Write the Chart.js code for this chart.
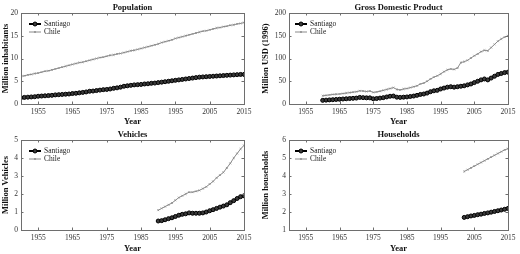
<!DOCTYPE html>
<html><head><meta charset="utf-8">
<script src="https://cdn.jsdelivr.net/npm/chart.js@4/dist/chart.umd.min.js"></script>
<style>
html,body{margin:0;padding:0;background:#fff;width:520px;height:254px;overflow:hidden}
.p{position:absolute;width:260px;height:127px}
</style></head><body>
<div class="p" style="left:0;top:0"><canvas id="c1" width="260" height="127"></canvas></div>
<div class="p" style="left:260px;top:0"><canvas id="c2" width="260" height="127"></canvas></div>
<div class="p" style="left:0;top:127px"><canvas id="c3" width="260" height="127"></canvas></div>
<div class="p" style="left:260px;top:127px"><canvas id="c4" width="260" height="127"></canvas></div>
<script>
// ---------- DATA ----------
const popYears = [1950,1951,1952,1953,1954,1955,1956,1957,1958,1959,1960,1961,1962,1963,1964,1965,1966,1967,1968,1969,1970,1971,1972,1973,1974,1975,1976,1977,1978,1979,1980,1981,1982,1983,1984,1985,1986,1987,1988,1989,1990,1991,1992,1993,1994,1995,1996,1997,1998,1999,2000,2001,2002,2003,2004,2005,2006,2007,2008,2009,2010,2011,2012,2013,2014,2015];
const popSantiago = [1.4,1.45,1.5,1.55,1.6,1.7,1.75,1.8,1.85,1.9,2.0,2.05,2.1,2.15,2.2,2.3,2.35,2.45,2.55,2.65,2.8,2.85,2.95,3.05,3.15,3.2,3.3,3.45,3.55,3.7,3.9,4.0,4.1,4.2,4.25,4.3,4.4,4.45,4.55,4.6,4.7,4.8,4.9,5.0,5.1,5.2,5.3,5.4,5.5,5.6,5.7,5.8,5.9,5.95,6.0,6.05,6.1,6.15,6.2,6.25,6.3,6.35,6.4,6.45,6.5,6.5];
const popChile = [6.1,6.2,6.4,6.5,6.7,6.8,7.0,7.2,7.3,7.5,7.7,7.9,8.1,8.3,8.5,8.7,8.9,9.1,9.2,9.4,9.6,9.8,10.0,10.2,10.3,10.5,10.7,10.8,11.0,11.1,11.3,11.5,11.7,11.8,12.0,12.2,12.4,12.6,12.8,13.0,13.2,13.5,13.7,13.9,14.1,14.4,14.6,14.8,15.0,15.2,15.4,15.6,15.8,16.0,16.1,16.3,16.5,16.7,16.8,17.0,17.1,17.3,17.4,17.6,17.7,17.9];

const gdpYears = [1960,1961,1962,1963,1964,1965,1966,1967,1968,1969,1970,1971,1972,1973,1974,1975,1976,1977,1978,1979,1980,1981,1982,1983,1984,1985,1986,1987,1988,1989,1990,1991,1992,1993,1994,1995,1996,1997,1998,1999,2000,2001,2002,2003,2004,2005,2006,2007,2008,2009,2010,2011,2012,2013,2014,2015];
const gdpSantiago = [8,8.5,9,9.5,10,10.5,11,11.5,12,12.5,13,14.5,14,13.5,13.5,11.5,12,13,14,15.5,17,17.5,15,14.5,15,15.5,16.5,17.5,19,21,22,24,27,29,30,33,35,37,38,37,38,39,40,42,44,47,50,53,55,53,57,61,65,67,69,70];
const gdpChile = [18,19,20,21,21.5,22,23,24,25,26,27,29,28.5,27.5,28.5,25.5,26.5,28,30,32,34,36,32,31,33,34,36,38,40,44,46,50,55,59,62,66,71,75,77,76,79,91,93,96,101,106,110,115,118,117,124,131,138,143,147,150];

const vehYears = [1990,1991,1992,1993,1994,1995,1996,1997,1998,1999,2000,2001,2002,2003,2004,2005,2006,2007,2008,2009,2010,2011,2012,2013,2014,2015];
const vehSantiago = [0.5,0.52,0.57,0.63,0.68,0.75,0.82,0.87,0.9,0.95,0.93,0.93,0.93,0.95,1.0,1.07,1.13,1.2,1.27,1.33,1.4,1.52,1.63,1.75,1.85,1.9];
const vehChile = [1.1,1.2,1.3,1.4,1.5,1.65,1.8,1.9,2.0,2.1,2.1,2.15,2.2,2.3,2.4,2.55,2.7,2.9,3.05,3.2,3.45,3.7,4.0,4.25,4.5,4.7];

const hhYears = [2002,2003,2004,2005,2006,2007,2008,2009,2010,2011,2012,2013,2014,2015];
const hhSantiago = [1.7,1.74,1.78,1.81,1.85,1.88,1.92,1.95,1.99,2.03,2.07,2.11,2.15,2.2];
const hhChile = [4.25,4.35,4.45,4.55,4.65,4.75,4.85,4.95,5.05,5.15,5.25,5.35,5.45,5.52];

const xTickLabels = [1955,1965,1975,1985,1995,2005,2015];
const seriesNames = ['Santiago','Chile'];
// ---------- END DATA ----------

const FONT = "'Liberation Serif', 'DejaVu Serif', serif";

const boxPlugin = {
  id: 'matlabBox',
  afterDraw(chart) {
    const ctx = chart.ctx, a = chart.chartArea;
    ctx.save();
    ctx.strokeStyle = '#6e6e6e';
    ctx.lineWidth = 1;
    ctx.strokeRect(Math.round(a.left) + 0.5, Math.round(a.top) + 0.5, Math.round(a.right - a.left), Math.round(a.bottom - a.top));
    const xs = chart.scales.x, ys = chart.scales.y;
    ctx.beginPath();
    xs.ticks.forEach(t => {
      const px = Math.round(xs.getPixelForValue(t.value)) + 0.5;
      ctx.moveTo(px, a.bottom); ctx.lineTo(px, a.bottom - 2.5);
      ctx.moveTo(px, a.top); ctx.lineTo(px, a.top + 2.5);
    });
    ys.ticks.forEach(t => {
      const py = Math.round(ys.getPixelForValue(t.value)) + 0.5;
      ctx.moveTo(a.left, py); ctx.lineTo(a.left + 2.5, py);
      ctx.moveTo(a.right, py); ctx.lineTo(a.right - 2.5, py);
    });
    ctx.stroke();
    const o = chart.options.plugins.matlabBox;
    ctx.fillStyle = '#111';
    ctx.font = 'bold 8.5px ' + FONT;
    ctx.textAlign = 'center';
    ctx.textBaseline = 'alphabetic';
    ctx.fillText(o.title, (a.left + a.right) / 2, a.top - 3);
    ctx.font = '7.5px ' + FONT;
    ctx.textAlign = 'left';
    ctx.textBaseline = 'middle';
    chart.data.datasets.forEach((ds, i) => {
      const y = a.top + 11 + i * 8;
      const x0 = a.left + o.legX, x1 = x0 + 12;
      ctx.strokeStyle = ds.borderColor;
      ctx.lineWidth = ds.borderWidth;
      ctx.beginPath(); ctx.moveTo(x0, y); ctx.lineTo(x1, y); ctx.stroke();
      ctx.strokeStyle = ds.pointBorderColor;
      ctx.fillStyle = ds.pointBackgroundColor;
      ctx.lineWidth = ds.pointBorderWidth;
      Chart.helpers.drawPoint(ctx, {pointStyle: ds.pointStyle, radius: ds.pointRadius, rotation: 0, borderWidth: ds.pointBorderWidth}, (x0 + x1) / 2, y);
      ctx.fillStyle = '#222';
      ctx.fillText(ds.label, x1 + 3, y + 0.5);
    });
    ctx.restore();
  }
};

function makeChart(id, years, santiago, chile, cfg) {
  const toPts = arr => arr.map((v, i) => ({x: years[i], y: v}));
  new Chart(document.getElementById(id), {
    type: 'line',
    data: {
      datasets: [
        {label: seriesNames[0], data: toPts(santiago), borderColor: '#000', borderWidth: 2,
         pointStyle: 'circle', pointRadius: 2, pointBorderWidth: 1, pointBorderColor: '#000', pointBackgroundColor: '#3a3a3a', tension: 0},
        {label: seriesNames[1], data: toPts(chile), borderColor: '#8a8a8a', borderWidth: 1,
         pointStyle: 'crossRot', pointRadius: 1.3, pointBorderWidth: 0.8, pointBorderColor: '#8a8a8a', pointBackgroundColor: '#8a8a8a', tension: 0}
      ]
    },
    options: {
      responsive: false, animation: false, devicePixelRatio: 1,
      layout: {padding: {top: cfg.top, right: cfg.right, left: 0, bottom: 0}},
      plugins: {legend: {display: false}, tooltip: {enabled: false}, title: {display: false},
        matlabBox: {title: cfg.title, legX: cfg.legX}},
      scales: {
        x: {type: 'linear', min: 1950, max: 2015,
          afterBuildTicks: s => { s.ticks = xTickLabels.map(v => ({value: v})); },
          afterFit: s => { s.height = cfg.xh; },
          grid: {display: true, drawOnChartArea: false, drawTicks: false},
          border: {display: true, color: '#6e6e6e'},
          ticks: {font: {family: FONT, size: 7.5}, color: '#333', padding: 4, maxRotation: 0, callback: v => String(v)},
          title: {display: true, text: 'Year', font: {family: FONT, size: 8.5, weight: 'bold'}, color: '#111', padding: {top: 0, bottom: 0}}
        },
        y: {type: 'linear', min: cfg.ymin, max: cfg.ymax,
          ticks: {stepSize: cfg.step, font: {family: FONT, size: 7.5}, color: '#333', padding: 3},
          afterFit: s => { s.width = cfg.yw; },
          grid: {display: true, drawOnChartArea: false, drawTicks: false},
          border: {display: true, color: '#6e6e6e'},
          title: {display: true, text: cfg.ylabel, font: {family: FONT, size: 8.5, weight: 'bold'}, color: '#111', padding: {top: 1, bottom: 1}}
        }
      }
    },
    plugins: [boxPlugin]
  });
}

makeChart('c1', popYears, popSantiago, popChile, {title: 'Population', ylabel: 'Million inhabitants', ymin: 0, ymax: 20, step: 5, top: 13, right: 16, xh: 23, yw: 21, legX: 8});
makeChart('c2', gdpYears, gdpSantiago, gdpChile, {title: 'Gross Domestic Product', ylabel: 'Million USD (1996)', ymin: 0, ymax: 200, step: 50, top: 13, right: 12, xh: 23, yw: 29, legX: 6});
makeChart('c3', vehYears, vehSantiago, vehChile, {title: 'Vehicles', ylabel: 'Million Vehicles', ymin: 0, ymax: 5, step: 1, top: 13, right: 16, xh: 24, yw: 21, legX: 8});
makeChart('c4', hhYears, hhSantiago, hhChile, {title: 'Households', ylabel: 'Million households', ymin: 1, ymax: 6, step: 1, top: 13, right: 12, xh: 24, yw: 29, legX: 6});
</script>
</body></html>
